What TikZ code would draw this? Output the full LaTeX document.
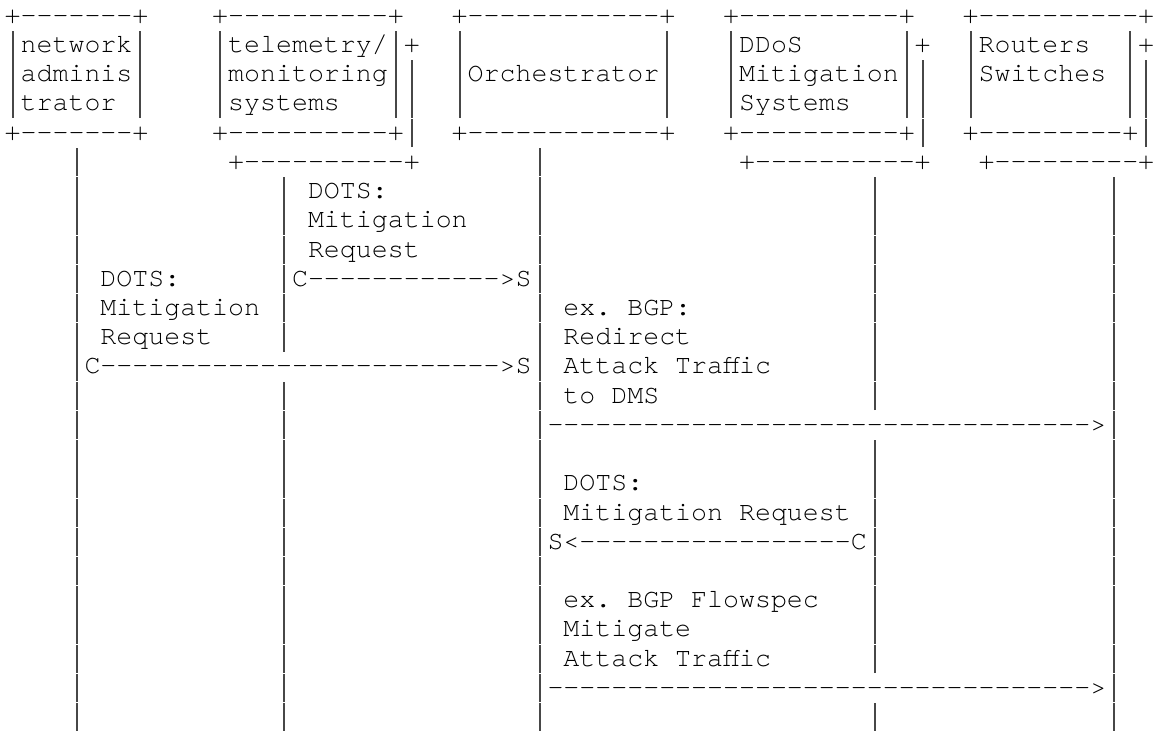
\documentclass[tikz,border=0pt]{standalone}
\usepackage{fontspec}
\setmonofont{TeX Gyre Cursor}
% one character cell of the typewriter grid
\newdimen\cellw
\cellw=16.02pt
\definecolor{barcol}{gray}{0.28}
\ExplSyntaxOn
\cs_new:Npn \dashrun #1 { \prg_replicate:nn {#1} {-} }
\ExplSyntaxOff
\newcommand\gap[1]{\kern#1\cellw}
% a full-height vertical bar filling one cell
\newcommand\vbar{\makebox[\cellw]{\textcolor{barcol}{\rule[-7pt]{2pt}{28.6pt}}}}
\tikzset{
  glyphs/.style={anchor=base west, inner sep=0pt, outer sep=0pt,
    font=\ttfamily\fontsize{26.7pt}{29.32pt}\selectfont, text=black},
}
% text placed at a grid cell: name, column, row, characters
\newcommand\txt[4]{\node[glyphs] (#1) at (#2,#3) {#4};}
\begin{document}
\begin{tikzpicture}[x=16.02pt, y=-29.32pt]
\useasboundingbox (-0.2934,-0.7981) rectangle (72.740,24.202);

% network administrator
\txt{admT}{0}{0}{+\dashrun{7}+}
\txt{adm1}{0}{1}{\vbar{}network\vbar}
\txt{adm2}{0}{2}{\vbar{}adminis\vbar}
\txt{adm3}{0}{3}{\vbar{}trator\gap{1}\vbar}
\txt{admB}{0}{4}{+\dashrun{7}+}

% telemetry / monitoring systems (stacked)
\txt{telT}{13}{0}{+\dashrun{10}+}
\txt{tel1}{13}{1}{\vbar{}telemetry/\vbar{}+}
\txt{tel2}{13}{2}{\vbar{}monitoring\vbar\vbar}
\txt{tel3}{13}{3}{\vbar{}systems\gap{3}\vbar\vbar}
\txt{telB}{13}{4}{+\dashrun{10}+\vbar}
\txt{telS}{14}{5}{+\dashrun{10}+}

% orchestrator
\txt{orcT}{28}{0}{+\dashrun{12}+}
\txt{orc1}{28}{1}{\vbar\gap{12}\vbar}
\txt{orc2}{28}{2}{\vbar{}Orchestrator\vbar}
\txt{orc3}{28}{3}{\vbar\gap{12}\vbar}
\txt{orcB}{28}{4}{+\dashrun{12}+}

% DDoS mitigation systems (stacked)
\txt{dmsT}{45}{0}{+\dashrun{10}+}
\txt{dms1}{45}{1}{\vbar{}DDoS\gap{6}\vbar{}+}
\txt{dms2}{45}{2}{\vbar{}Mitigation\vbar\vbar}
\txt{dms3}{45}{3}{\vbar{}Systems\gap{3}\vbar\vbar}
\txt{dmsB}{45}{4}{+\dashrun{10}+\vbar}
\txt{dmsS}{46}{5}{+\dashrun{10}+}

% routers / switches (stacked)
\txt{rtrT}{60}{0}{+\dashrun{10}+}
\txt{rtr1}{60}{1}{\vbar{}Routers\gap{2}\vbar{}+}
\txt{rtr2}{60}{2}{\vbar{}Switches\gap{1}\vbar\vbar}
\txt{rtr3}{60}{3}{\vbar\gap{9}\vbar\vbar}
\txt{rtrB}{60}{4}{+\dashrun{9}+\vbar}
\txt{rtrS}{61}{5}{+\dashrun{9}+}

% lifelines
\foreach \r in {5,...,24} {\node[glyphs] (admL\r) at (4,\r) {\vbar};}
\foreach \r in {6,7,8,9,10,11,13,14,15,16,17,18,19,20,21,22,23,24} {\node[glyphs] (telL\r) at (17,\r) {\vbar};}
\foreach \r in {5,...,24} {\node[glyphs] (orcL\r) at (33,\r) {\vbar};}
\foreach \r in {6,7,8,9,10,11,12,13,15,16,17,18,19,20,21,22,24} {\node[glyphs] (dmsL\r) at (54,\r) {\vbar};}
\foreach \r in {6,...,24} {\node[glyphs] (rtrL\r) at (69,\r) {\vbar};}

% telemetry -> orchestrator
\txt{m1a}{19}{6}{DOTS:}
\txt{m1b}{19}{7}{Mitigation}
\txt{m1c}{19}{8}{Request}
\txt{m1}{18}{9}{C\dashrun{12}>S}

% administrator -> orchestrator
\txt{m2a}{6}{9}{DOTS:}
\txt{m2b}{6}{10}{Mitigation}
\txt{m2c}{6}{11}{Request}
\txt{m2}{5}{12}{C\dashrun{25}>S}

% orchestrator -> routers: redirect
\txt{m3a}{35}{10}{ex. BGP:}
\txt{m3b}{35}{11}{Redirect}
\txt{m3c}{35}{12}{Attack Traffic}
\txt{m3d}{35}{13}{to DMS}
\txt{m3}{34}{14}{\dashrun{34}>}

% DDoS mitigation systems -> orchestrator
\txt{m4a}{35}{16}{DOTS:}
\txt{m4b}{35}{17}{Mitigation Request}
\txt{m4}{34}{18}{S<\dashrun{17}C}

% orchestrator -> routers: flowspec
\txt{m5a}{35}{20}{ex. BGP Flowspec}
\txt{m5b}{35}{21}{Mitigate}
\txt{m5c}{35}{22}{Attack Traffic}
\txt{m5}{34}{23}{\dashrun{34}>}
\end{tikzpicture}
\end{document}
